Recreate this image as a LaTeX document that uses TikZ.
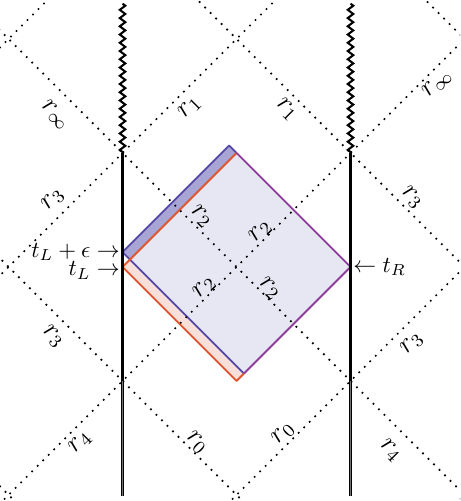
\documentclass[tikz,border=0pt]{standalone}
\usepackage{amsmath,amssymb}
\usepackage{xcolor}
\usepackage{tikz}
\usetikzlibrary{
  arrows.meta, positioning, calc,
  decorations.pathmorphing
}
\definecolor{C_TL}  {HTML}{E0552D}
\definecolor{C_TLE} {HTML}{5547A5}
\definecolor{C_MIX} {HTML}{8E3E9A}
\definecolor{F_EPS} {HTML}{A7A5D5}
\definecolor{F_OVER}{HTML}{E7E7F4}
\definecolor{F_LOW} {HTML}{F8DFDA}
\tikzset{
  %% -- null rays of the lattice --
  PD/null/.style={line width=1.05pt, dash pattern=on 0pt off 3.4pt, line cap=round},
  %% -- singular piece of the boundary --
  PD/sing/.style={line width=0.9pt, decorate,
    decoration={zigzag, segment length=3.6pt, amplitude=1.2pt}},
  %% -- regular piece of the boundary --
  PD/bdry/.style={line width=1.3pt},
  %% -- far piece of the boundary --
  PD/far/.style={double=black!55, line width=0.35pt, double distance=0.25pt},
  %% -- edges of the shaded wedges --
  PD/edge/.style={line width=0.8pt, line join=round},
  %% -- radius labels --
  PD/lbl/.style={inner sep=0pt, font=\large},
  %% -- time labels --
  PD/tick/.style={inner sep=1pt},
}

\begin{document}
\begin{tikzpicture}[x=1.75cm, y=1.75cm]
\pgfmathsetmacro{\eps}{0.13}

\useasboundingbox (-2.075,-2.053) rectangle (1.961,2.342);

%% ── Lattice points ───────────────────────────────────────────
\coordinate (NW) at (-1, 1);
\coordinate (SW) at (-1,-1);
\coordinate (NE) at ( 1, 1);
\coordinate (SE) at ( 1,-1);
\coordinate (Ltop) at (-1, 2.31);
\coordinate (Lbot) at (-1,-2.01);
\coordinate (Rtop) at ( 1, 2.31);
\coordinate (Rbot) at ( 1,-2.01);

%% ── Wedge corners ────────────────────────────────────────────
\coordinate (tL)  at (-1,0);
\coordinate (tLe) at (-1,\eps);
\coordinate (tR)  at ( 1,0);
\coordinate (Dn)  at (0, 1);
\coordinate (Ds)  at (0,-1);
\coordinate (En)  at ({-\eps/2},{1+\eps/2});
\coordinate (Es)  at ({\eps/2},{-1+\eps/2});
\coordinate (Xw)  at ({-1+\eps/2},{\eps/2});

%% ── Shaded wedges ────────────────────────────────────────────
\fill[F_EPS]  (tLe) -- (En) -- (Dn) -- (Xw) -- cycle;
\fill[F_OVER] (Xw) -- (Dn) -- (tR) -- (Es) -- cycle;
\fill[F_LOW]  (tL) -- (Xw) -- (Es) -- (Ds) -- cycle;

\draw[PD/edge, C_TLE] (Dn) -- (En) -- (tLe) -- (Es);
\draw[PD/edge, C_TL]  (Es) -- (Ds) -- (tL) -- (Dn);
\draw[PD/edge, C_MIX] (Dn) -- (tR) -- (Es);

%% ── Null rays ────────────────────────────────────────────────
\begin{scope}
  \clip (-2.075,-2.053) rectangle (1.961,2.342);
  \foreach \c in {-4,-2,0,2,4} {
    \draw[PD/null] ({\c-3},-3) -- ({\c+3},3);
    \draw[PD/null] ({\c-3},3) -- ({\c+3},-3);
  }
\end{scope}

%% ── Boundaries ───────────────────────────────────────────────
\draw[PD/sing] (Ltop) -- (NW);
\draw[PD/bdry] (NW) -- (SW);
\draw[PD/far]  (SW) -- (Lbot);
\draw[PD/sing] (Rtop) -- (NE);
\draw[PD/bdry] (NE) -- (SE);
\draw[PD/far]  (SE) -- (Rbot);

%% ── Time labels ──────────────────────────────────────────────
\node[PD/tick, left]  (lblLe) at (tLe) {$t_L+\epsilon\rightarrow$};
\node[PD/tick, left, yshift=-1.5pt] (lblL) at (tL) {$t_L\rightarrow$};
\node[PD/tick, right] (lblR)  at (tR)  {$\leftarrow t_R$};

%% ── Radius labels ────────────────────────────────────────────
\node[PD/lbl, rotate=-45] (rinfL)  at (-1.59, 1.33) {$r_\infty$};
\node[PD/lbl, rotate= 45] (roneL)  at (-0.41, 1.40) {$r_1$};
\node[PD/lbl, rotate=-45] (roneR)  at ( 0.44, 1.38) {$r_1$};
\node[PD/lbl, rotate= 45] (rinfR)  at ( 1.76, 1.61) {$r_\infty$};

\node[PD/lbl, rotate= 45] (rthrUL) at (-1.61, 0.59) {$r_3$};
\node[PD/lbl, rotate=-45] (rtwoNL) at (-0.31, 0.44) {$r_2$};
\node[PD/lbl, rotate= 45] (rtwoNR) at ( 0.21, 0.31) {$r_2$};
\node[PD/lbl, rotate=-45] (rthrUR) at ( 1.54, 0.61) {$r_3$};

\node[PD/lbl, rotate=-45] (rthrDL) at (-1.61,-0.61) {$r_3$};
\node[PD/lbl, rotate= 45] (rtwoSL) at (-0.28,-0.18) {$r_2$};
\node[PD/lbl, rotate=-45] (rtwoSR) at ( 0.29,-0.19) {$r_2$};
\node[PD/lbl, rotate= 45] (rthrDR) at ( 1.54,-0.67) {$r_3$};

\node[PD/lbl, rotate= 45] (rfouL)  at (-1.37,-1.54) {$r_4$};
\node[PD/lbl, rotate=-45] (rzerL)  at (-0.35,-1.54) {$r_0$};
\node[PD/lbl, rotate= 45] (rzerR)  at ( 0.41,-1.46) {$r_0$};
\node[PD/lbl, rotate=-45] (rfouR)  at ( 1.35,-1.61) {$r_4$};

\end{tikzpicture}
\end{document}
